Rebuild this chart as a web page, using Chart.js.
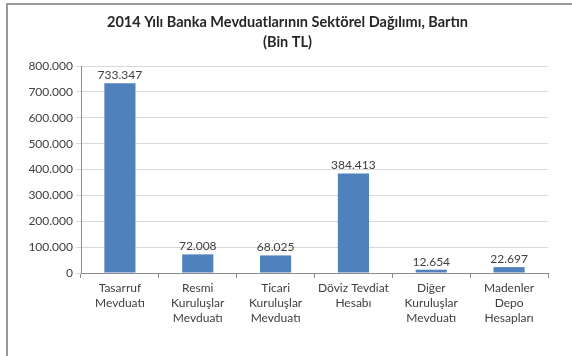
<!DOCTYPE html>
<html><head><meta charset="utf-8">
<script src="https://cdn.jsdelivr.net/npm/chart.js@4/dist/chart.umd.min.js"></script>
<style>
html,body{margin:0;padding:0;background:#fff;}
#wrap{position:relative;width:572px;height:356px;}
#frame{position:absolute;left:6px;top:3px;width:600px;height:400px;border-left:2px solid #9a9a9a;border-top:2px solid #9a9a9a;pointer-events:none;}
canvas{position:absolute;left:0;top:0;}
</style></head>
<body>
<div id="wrap"><canvas id="c" width="572" height="356"></canvas><div id="frame"></div></div>
<script>
const titleLines = ['2014 Yılı Banka Mevduatlarının Sektörel Dağılımı, Bartın', '(Bin TL)'];
const categories = [
  ['Tasarruf','Mevduatı'],
  ['Resmi','Kuruluşlar','Mevduatı'],
  ['Ticari','Kuruluşlar','Mevduatı'],
  ['Döviz Tevdiat','Hesabı'],
  ['Diğer','Kuruluşlar','Mevduatı'],
  ['Madenler','Depo','Hesapları']
];
const values = [733347, 72008, 68025, 384413, 12654, 22697];
const valueLabels = ['733.347','72.008','68.025','384.413','12.654','22.697'];
const yTickValues = [0,100000,200000,300000,400000,500000,600000,700000,800000];
const yTickLabels = ['0','100.000','200.000','300.000','400.000','500.000','600.000','700.000','800.000'];

const FONT = 'Lato, "Open Sans", sans-serif';

const labelPlugin = {
  id: 'valLabels',
  afterDatasetsDraw(chart) {
    const ctx = chart.ctx;
    const meta = chart.getDatasetMeta(0);
    ctx.save();
    ctx.font = '12px ' + FONT;
    ctx.fillStyle = '#404040';
    ctx.textAlign = 'center';
    ctx.textBaseline = 'bottom';
    meta.data.forEach((bar, i) => {
      ctx.fillText(valueLabels[i], bar.x, bar.y - 2);
    });
    ctx.restore();
  }
};

new Chart(document.getElementById('c'), {
  type: 'bar',
  data: {
    labels: categories,
    datasets: [{
      data: values,
      backgroundColor: '#4F81BD',
      borderWidth: 0,
      barPercentage: 0.4,
      categoryPercentage: 1.0
    }]
  },
  plugins: [labelPlugin],
  options: {
    responsive: false,
    animation: false,
    devicePixelRatio: 1,
    layout: { padding: { left: 27, right: 24, top: 12, bottom: 0 } },
    plugins: {
      legend: { display: false },
      tooltip: { enabled: false },
      title: {
        display: true,
        text: titleLines,
        color: '#262626',
        font: { family: FONT, size: 14.5, weight: 'bold', lineHeight: 1.38 },
        padding: { top: 0, bottom: 14 }
      }
    },
    scales: {
      x: {
        grid: { display: true, drawOnChartArea: false, drawTicks: true, tickLength: 5, color: '#8c8c8c', offset: true },
        border: { display: true, color: '#8c8c8c' },
        ticks: {
          color: '#404040',
          font: { family: FONT, size: 12, lineHeight: 1.25 },
          padding: 3,
          maxRotation: 0,
          autoSkip: false
        },
        afterFit(scale) { scale.height = 83; }
      },
      y: {
        min: 0, max: 800000,
        afterBuildTicks(scale) { scale.ticks = yTickValues.map(v => ({ value: v })); },
        grid: { color: '#d9d9d9', drawTicks: true, tickLength: 5 },
        border: { display: true, color: '#8c8c8c' },
        ticks: {
          color: '#404040',
          font: { family: FONT, size: 12 },
          padding: 3,
          callback(v) { const i = yTickValues.indexOf(v); return i >= 0 ? yTickLabels[i] : ''; }
        },
        afterFit(scale) { scale.width = 54; }
      }
    }
  }
});
</script>
</body></html>
